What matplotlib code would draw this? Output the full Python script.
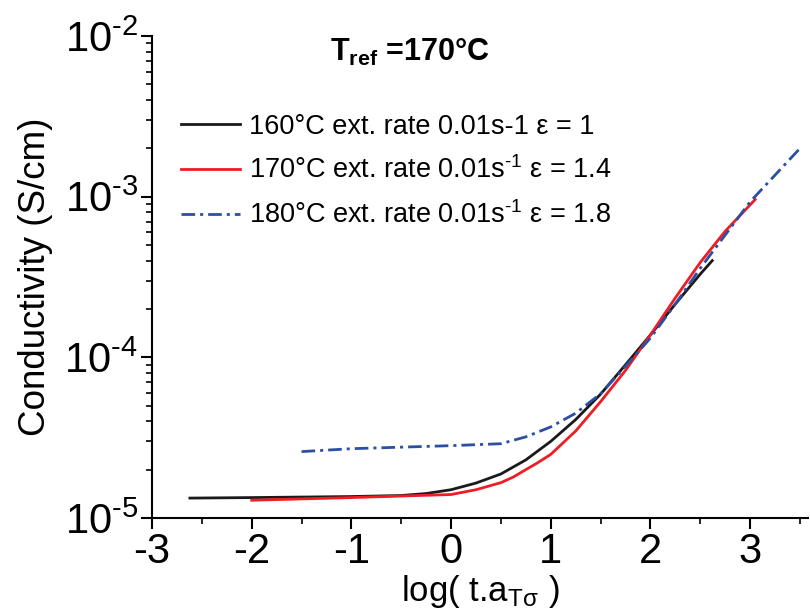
import numpy as np
import matplotlib
matplotlib.use("Agg")
import matplotlib.pyplot as plt
from matplotlib.ticker import LogLocator, MultipleLocator, FuncFormatter

# values (x = log(t.aT), y = conductivity in S/cm)
x_160 = [-2.62, -2.0, -1.0, -0.5, -0.25, 0.0, 0.25, 0.5, 0.75, 1.0, 1.25, 1.5, 1.75, 2.0, 2.25, 2.5, 2.62]
y_160 = [1.33e-5, 1.34e-5, 1.36e-5, 1.38e-5, 1.42e-5, 1.50e-5, 1.65e-5, 1.88e-5, 2.30e-5, 3.00e-5,
         4.10e-5, 5.90e-5, 9.00e-5, 1.38e-4, 2.15e-4, 3.30e-4, 4.00e-4]

x_170 = [-2.0, -1.0, -0.5, 0.0, 0.25, 0.5, 0.625, 0.75, 0.875, 1.0, 1.25, 1.5, 1.75, 2.0, 2.25, 2.5, 2.75, 3.05]
y_170 = [1.29e-5, 1.34e-5, 1.37e-5, 1.40e-5, 1.50e-5, 1.66e-5, 1.80e-5, 2.00e-5, 2.22e-5, 2.49e-5,
         3.48e-5, 5.30e-5, 8.30e-5, 1.38e-4, 2.35e-4, 3.90e-4, 6.10e-4, 9.60e-4]

x_180 = [-1.5, -1.0, -0.5, 0.0, 0.5, 0.75, 1.0, 1.25, 1.5, 1.75, 2.0, 2.25, 2.5, 3.0, 3.5]
y_180 = [2.59e-5, 2.70e-5, 2.76e-5, 2.82e-5, 2.90e-5, 3.20e-5, 3.69e-5, 4.49e-5, 5.94e-5, 8.80e-5,
         1.32e-4, 2.15e-4, 3.59e-4, 9.30e-4, 2.00e-3]

labels = ["160°C ext. rate 0.01s-1 ε = 1",
          r"170°C ext. rate 0.01s$^{\text{-}1}$ ε = 1.4",
          r"180°C ext. rate 0.01s$^{\text{-}1}$ ε = 1.8"]

plt.rcParams['font.family'] = ['Liberation Sans', 'DejaVu Sans']
plt.rcParams['axes.unicode_minus'] = False
plt.rcParams['mathtext.fontset'] = 'custom'
plt.rcParams['mathtext.rm'] = 'Liberation Sans'
plt.rcParams['mathtext.it'] = 'Liberation Sans'
plt.rcParams['mathtext.bf'] = 'Liberation Sans:bold'
plt.rcParams['mathtext.default'] = 'regular'

fig = plt.figure(figsize=(8.1, 6.14), dpi=100)
ax = fig.add_axes([152 / 810, 96 / 614, 656 / 810, 482 / 614])

ax.plot(x_160, y_160, color='#1a1a1a', lw=2.0, label=labels[0])
ax.plot(x_170, y_170, color='#ee1c25', lw=2.0, label=labels[1])
ax.plot(x_180, y_180, color='#2a4fa3', lw=2.0, dashes=(4.9, 1.8, 1.1, 1.8), label=labels[2])

ax.set_yscale('log')
ax.set_xlim(-3, 3.58)
ax.set_ylim(1e-5, 1e-2)

ax.spines['top'].set_visible(False)
ax.spines['right'].set_visible(False)
for s in ('left', 'bottom'):
    ax.spines[s].set_linewidth(1.5)

ax.xaxis.set_major_locator(MultipleLocator(1))
ax.xaxis.set_minor_locator(MultipleLocator(0.5))
ax.xaxis.set_major_formatter(FuncFormatter(lambda v, p: '%d' % round(v)))
ax.yaxis.set_major_locator(LogLocator(base=10, numticks=10))
ax.yaxis.set_minor_locator(LogLocator(base=10, subs=np.arange(2, 10), numticks=10))
ax.yaxis.set_major_formatter(FuncFormatter(
    lambda v, p: r'$10^{\text{-}%d}$' % round(-np.log10(v))))
ax.tick_params(which='major', direction='out', length=8, width=1.5, labelsize=30, pad=2)
ax.tick_params(which='minor', direction='out', length=4, width=1.2)

ax.set_ylabel('Conductivity (S/cm)', fontsize=26.5, labelpad=8)
ax.set_xlabel(r'log( t.a$_{T\sigma}$ )', fontsize=25, labelpad=1)

fig.text(330 / 810, 1 - 52 / 614, r'T$_{\mathbf{ref}}$ =170°C', fontsize=22, fontweight='bold',
         va='center', ha='left')

leg = ax.legend(loc='upper left', bbox_to_anchor=(170 / 810, 1 - 103 / 614),
                bbox_transform=fig.transFigure, frameon=False, fontsize=19.5,
                handlelength=2.2, handletextpad=0.3, labelspacing=0.62, borderaxespad=0)

fig.savefig('out.png', dpi=100)
